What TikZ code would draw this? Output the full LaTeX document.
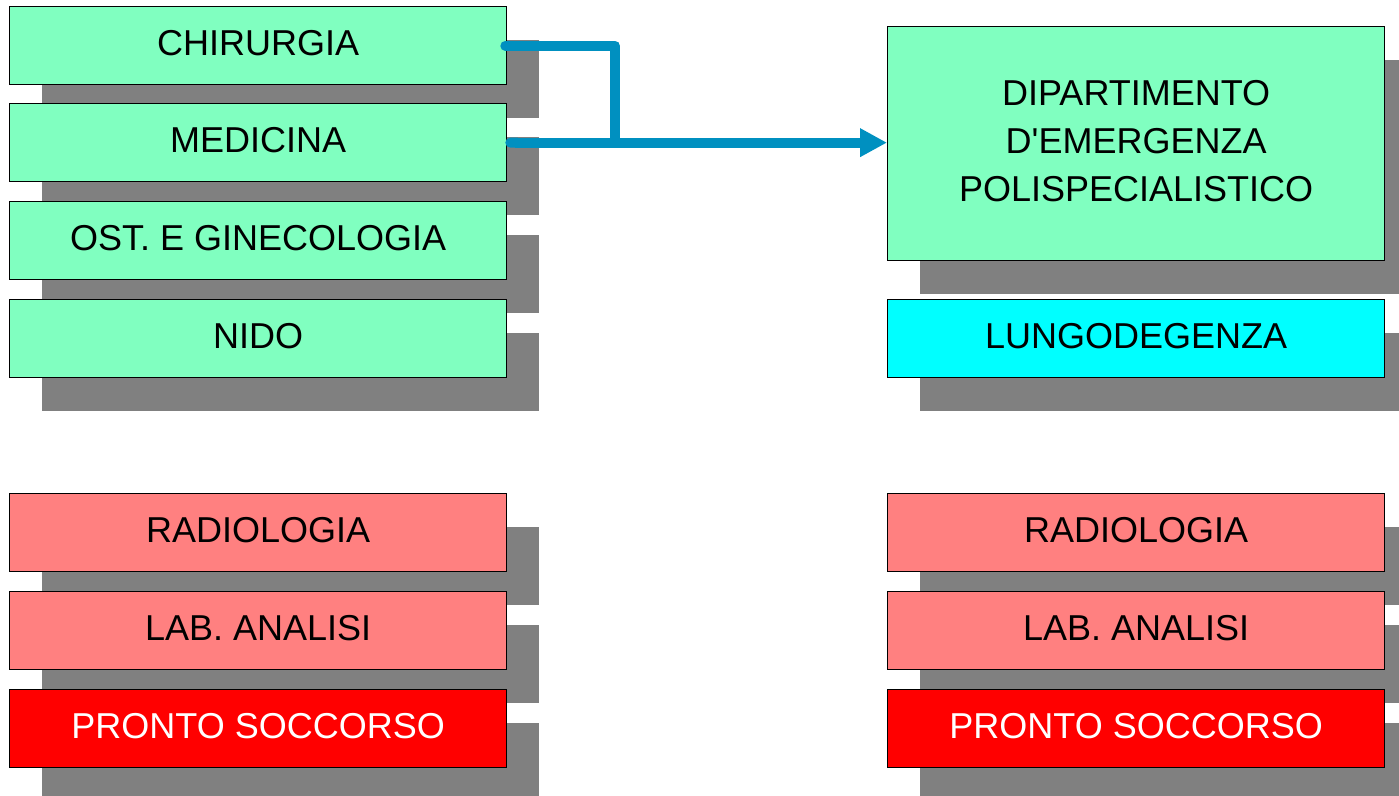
\documentclass[tikz,border=0pt]{standalone}
\usepackage{fontspec}
\setmainfont{Liberation Sans}
\usetikzlibrary{shadows,arrows.meta,calc}
\definecolor{wardgreen}{HTML}{80FFC0}
\definecolor{wardcyan}{HTML}{00FFFF}
\definecolor{servicered}{HTML}{FF8080}
\definecolor{urgentred}{HTML}{FF0000}
\definecolor{shadowgray}{HTML}{808080}
\definecolor{linkblue}{HTML}{0090C0}
\begin{document}
\begin{tikzpicture}[x=1pt,y=-1pt,
  unit/.style={draw=black,line width=1.3pt,anchor=north west,inner sep=0pt,
    minimum width=497pt,minimum height=78pt,align=center,text depth=6pt,
    font=\fontsize{36}{48}\selectfont,
    general shadow={shadow xshift=32pt,shadow yshift=-33pt,fill=shadowgray,draw=none,opacity=1}},
  ward/.style={unit,fill=wardgreen},
  longstay/.style={unit,fill=wardcyan},
  service/.style={unit,fill=servicered},
  urgent/.style={unit,fill=urgentred,text=white},
  link/.style={draw=linkblue,line width=10pt,line join=round}]
\useasboundingbox (0,0) rectangle (1399,795);
% wards, left column
\node[ward] (chir) at (9,6) {CHIRURGIA};
\node[ward] (med) at (9,103) {MEDICINA};
\node[ward] (ost) at (9,201) {OST. E GINECOLOGIA};
\node[ward] (nido) at (9,299) {NIDO};
% services, left column
\node[service] (radl) at (9,493) {RADIOLOGIA};
\node[service] (labl) at (9,591) {LAB. ANALISI};
\node[urgent] (psl) at (9,689) {PRONTO SOCCORSO};
% right column
\node[ward,minimum height=234pt] (dep) at (887,26) {DIPARTIMENTO\\D\textquotesingle EMERGENZA\\POLISPECIALISTICO};
\node[longstay] (lung) at (887,299) {LUNGODEGENZA};
\node[service] (radr) at (887,493) {RADIOLOGIA};
\node[service] (labr) at (887,591) {LAB. ANALISI};
\node[urgent] (psr) at (887,689) {PRONTO SOCCORSO};
% transfer connectors
\coordinate (chirout) at ($(chir.east)+(-2,0)$);
\coordinate (medout) at ($(med.east)+(-2,0)$);
\coordinate (merge) at (615,0 |- med.east);
\draw[link,line cap=round] (chirout) -| (merge);
\draw[link,{Round Cap[]}-{Triangle[length=27pt,width=27pt]}] (medout) -- (med.east -| dep.west);
\end{tikzpicture}
\end{document}
